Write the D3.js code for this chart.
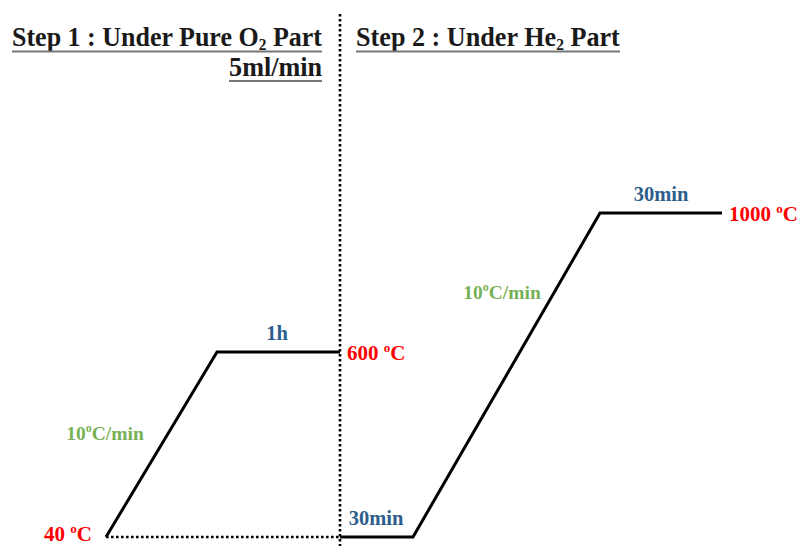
<!DOCTYPE html>
<html>
<head>
<meta charset="utf-8">
<script src="https://cdn.jsdelivr.net/npm/d3@7"></script>
<style>
  html, body { margin: 0; padding: 0; background: #fff; }
  svg { display: block; }
</style>
</head>
<body>
<svg id="chart" width="806" height="546"></svg>
<script>
// ---- Data (schematic time in minutes, temperature in °C) ----
const step1Time = [0, 55.5, 117];
const step1Temp = [40, 600, 600];
const step2Time = [117, 153.5, 247, 308];
const step2Temp = [40, 40, 1000, 1000];
const baselineTime = [0, 117];
const baselineTemp = [40, 40];
const tempLabels = [
  {t: 0, temp: 40, text: "40 ", anchor: "end"},
  {t: 117, temp: 600, text: "600 ", anchor: "start"},
  {t: 308, temp: 1000, text: "1000 ", anchor: "start"}
];
const holdLabels = [
  {t: 85.5, temp: 600, text: "1h"},
  {t: 135, temp: 40, text: "30min"},
  {t: 277.5, temp: 1000, text: "30min"}
];
const rateLabels = [
  {t: -0.5, temp: 334, text: "10", suffix: "C/min"},
  {t: 198, temp: 752, text: "10", suffix: "C/min"}
];
const titles = [
  {main: "Step 1 :  Under Pure O", sub: "2", tail: " Part"},
  {main: "Step 2 :  Under He", sub: "2", tail: " Part"}
];

const svg = d3.select("#chart");
const x = d3.scaleLinear().domain([0, 117]).range([106, 340]);
const y = d3.scaleLinear().domain([40, 600, 1000]).range([537, 352, 213]);

const RED = "#FF0000", BLUE = "#2E5E8C", GREEN = "#77B155", INK = "#1a1a1a";
const serif = "'Liberation Serif', 'Times New Roman', serif";

// dotted separators
svg.append("line")
  .attr("x1", x(117)).attr("x2", x(117))
  .attr("y1", 14).attr("y2", 546)
  .attr("stroke", "#000").attr("stroke-width", 2.6)
  .attr("stroke-dasharray", "2.6,2.4");

const line = d3.line().x(d => x(d[0])).y(d => y(d[1]));

svg.append("path")
  .datum(d3.zip(baselineTime, baselineTemp))
  .attr("d", line)
  .attr("fill", "none").attr("stroke", "#000")
  .attr("stroke-width", 2.6).attr("stroke-dasharray", "2.6,2.4");

[d3.zip(step1Time, step1Temp), d3.zip(step2Time, step2Temp)].forEach(pts => {
  svg.append("path")
    .datum(pts)
    .attr("d", line)
    .attr("fill", "none").attr("stroke", "#000")
    .attr("stroke-width", 3).attr("stroke-linejoin", "miter");
});

// temperature labels
tempLabels.forEach(d => {
  const tx = svg.append("text")
    .attr("x", x(d.t) + (d.anchor === "end" ? -14 : 7))
    .attr("y", y(d.temp) + (d.temp === 40 ? 4 : 8))
    .attr("text-anchor", d.anchor)
    .attr("font-family", serif).attr("font-weight", "bold")
    .attr("font-size", 21).attr("fill", RED);
  tx.append("tspan").text(d.text);
  tx.append("tspan").attr("font-size", 13).attr("dy", -8).text("o");
  tx.append("tspan").attr("dy", 8).text("C");
});

// hold labels
holdLabels.forEach(d => {
  svg.append("text")
    .attr("x", x(d.t)).attr("y", y(d.temp) - 12)
    .attr("text-anchor", "middle")
    .attr("font-family", serif).attr("font-weight", "bold")
    .attr("font-size", 20.5).attr("fill", BLUE)
    .text(d.text);
});

// rate labels
rateLabels.forEach(d => {
  const tx = svg.append("text")
    .attr("x", x(d.t)).attr("y", y(d.temp))
    .attr("text-anchor", "middle")
    .attr("font-family", serif).attr("font-weight", "bold")
    .attr("font-size", 19.5).attr("fill", GREEN);
  tx.append("tspan").text(d.text);
  tx.append("tspan").attr("font-size", 12).attr("dy", -8).text("o");
  tx.append("tspan").attr("dy", 8).text(d.suffix);
});

// titles (fit to reference width)
const titleX = [12, 356];
const titleW = [310, 264];
titles.forEach((d, i) => {
  const tx = svg.append("text")
    .attr("x", 0).attr("y", 0)
    .attr("font-family", serif).attr("font-weight", "bold")
    .attr("font-size", 27).attr("fill", INK);
  tx.append("tspan").text(d.main);
  tx.append("tspan").attr("font-size", 16).attr("dy", 4).text(d.sub);
  tx.append("tspan").attr("dy", -4).text(d.tail);
  const w = tx.node().getBBox().width;
  const s = titleW[i] / w;
  tx.attr("transform", `translate(${titleX[i]},46) scale(${s},1)`);
  svg.append("line")
    .attr("x1", titleX[i]).attr("x2", titleX[i] + titleW[i])
    .attr("y1", 51.5).attr("y2", 51.5)
    .attr("stroke", "#777").attr("stroke-width", 2);
});

const sub = svg.append("text")
  .attr("x", 0).attr("y", 0)
  .attr("text-anchor", "end")
  .attr("font-family", serif).attr("font-weight", "bold")
  .attr("font-size", 27).attr("fill", INK)
  .text("5ml/min");
const sw = sub.node().getBBox().width;
sub.attr("transform", `translate(322,76) scale(${93 / sw},1)`);
svg.append("line")
  .attr("x1", 229).attr("x2", 322)
  .attr("y1", 81).attr("y2", 81)
  .attr("stroke", "#777").attr("stroke-width", 2);
</script>
</body>
</html>
